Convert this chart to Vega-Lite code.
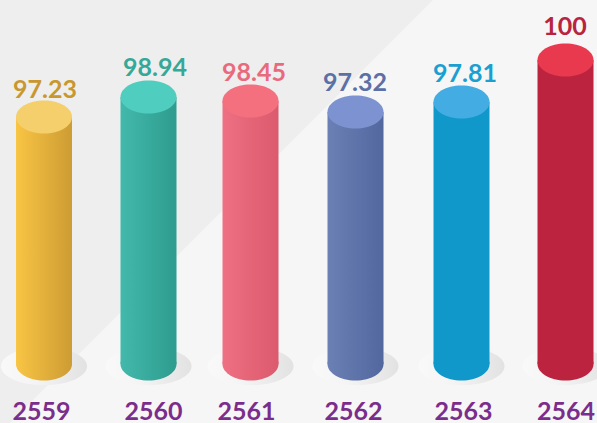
{
"$schema":"https://vega.github.io/schema/vega-lite/v6.json",
"width":597,"height":423,"padding":0,"autosize":{"type":"none"},
"background":"#eeeeee",
"view":{"stroke":null,"fill":"#eeeeee"},
"layer":[
 {"data":{"values":[{"bgx":10,"bgy":423},{"bgx":433,"bgy":0},{"bgx":597,"bgy":0}]},
  "mark":{"type":"area","fill":"#f6f6f6","interpolate":"linear"},
  "encoding":{
   "x":{"field":"bgx","type":"quantitative","axis":null,"scale":{"domain":[0,597],"range":[0,597]}},
   "y":{"field":"bgy","type":"quantitative","axis":null,"scale":{"domain":[0,423],"range":[0,423]}},
   "y2":{"datum":423}
  }},
 {"data":{"values":[{"year":2559,"value":97.23},{"year":2560,"value":98.94},{"year":2561,"value":98.45},{"year":2562,"value":97.32},{"year":2563,"value":97.81},{"year":2564,"value":100}]},
  "encoding":{
   "x":{"field":"year","type":"quantitative","scale":{"padding":0,"nice":false,"zero":false,"domain":[2559,2560,2561,2562,2563,2564],"range":[44,148.5,250.5,355.5,461.5,565.5]},
     "axis":{"values":[2559,2560,2561,2562,2563,2564],"format":"d","title":null,"domain":false,"ticks":false,"grid":false,"labelFont":"Lato","labelFontSize":25,"labelFontWeight":700,"labelColor":"#7b2d8b","labelBaseline":"middle","labelPadding":-12,"labelOverlap":false,"labelBound":false,"labelFlush":false,"zindex":1,
       "labelOffset":{"expr":"[-3,4.5,-4.5,-2.5,1.5,0][datum.value-2559]"}}},
   "y":{"field":"value","type":"quantitative","axis":null,"scale":{"padding":0,"nice":false,"zero":false,"domain":[90,97.23,97.32,97.81,98.45,98.94,100],"range":[364,117,112,102,101,97,60]}}
  },
  "layer":[
   {"mark":{"type":"point","filled":true,"opacity":1,"size":7396,"shape":"M-1,0.05 A1,0.44 0 1,0 1,0.05 A1,0.44 0 1,0 -1,0.05 Z",
      "fill":{"gradient":"linear","x1":0,"x2":1,"y1":0,"y2":0,"stops":[{"offset":0,"color":"#f9f9f9"},{"offset":0.4,"color":"#f4f4f4"},{"offset":1,"color":"#e2e2e2"}]}},
    "encoding":{"y":{"datum":90,"type":"quantitative"}}},
   {"transform":[{"filter":"datum.year==2559"}],"mark":{"type":"bar","size":56,"fill":{"gradient":"linear","x1":0,"x2":1,"y1":0,"y2":0,"stops":[{"offset":0,"color":"#f9c544"},{"offset":1,"color":"#cd9c33"}]}},"encoding":{"y2":{"datum":90}}},
   {"transform":[{"filter":"datum.year==2559"}],"mark":{"type":"point","filled":true,"opacity":1,"size":3136,"shape":"M-1,0 A1,0.59 0 1,0 1,0 A1,0.59 0 1,0 -1,0 Z","fill":{"gradient":"linear","x1":0,"x2":1,"y1":0,"y2":0,"stops":[{"offset":0,"color":"#f9c544"},{"offset":1,"color":"#cd9c33"}]}},"encoding":{"y":{"datum":90,"type":"quantitative"}}},
   {"transform":[{"filter":"datum.year==2560"}],"mark":{"type":"bar","size":56,"fill":{"gradient":"linear","x1":0,"x2":1,"y1":0,"y2":0,"stops":[{"offset":0,"color":"#42b9ac"},{"offset":1,"color":"#2e9c8e"}]}},"encoding":{"y2":{"datum":90}}},
   {"transform":[{"filter":"datum.year==2560"}],"mark":{"type":"point","filled":true,"opacity":1,"size":3136,"shape":"M-1,0 A1,0.59 0 1,0 1,0 A1,0.59 0 1,0 -1,0 Z","fill":{"gradient":"linear","x1":0,"x2":1,"y1":0,"y2":0,"stops":[{"offset":0,"color":"#42b9ac"},{"offset":1,"color":"#2e9c8e"}]}},"encoding":{"y":{"datum":90,"type":"quantitative"}}},
   {"transform":[{"filter":"datum.year==2561"}],"mark":{"type":"bar","size":56,"fill":{"gradient":"linear","x1":0,"x2":1,"y1":0,"y2":0,"stops":[{"offset":0,"color":"#ee7082"},{"offset":1,"color":"#dc5a6d"}]}},"encoding":{"y2":{"datum":90}}},
   {"transform":[{"filter":"datum.year==2561"}],"mark":{"type":"point","filled":true,"opacity":1,"size":3136,"shape":"M-1,0 A1,0.59 0 1,0 1,0 A1,0.59 0 1,0 -1,0 Z","fill":{"gradient":"linear","x1":0,"x2":1,"y1":0,"y2":0,"stops":[{"offset":0,"color":"#ee7082"},{"offset":1,"color":"#dc5a6d"}]}},"encoding":{"y":{"datum":90,"type":"quantitative"}}},
   {"transform":[{"filter":"datum.year==2562"}],"mark":{"type":"bar","size":56,"fill":{"gradient":"linear","x1":0,"x2":1,"y1":0,"y2":0,"stops":[{"offset":0,"color":"#6b81b5"},{"offset":1,"color":"#52679e"}]}},"encoding":{"y2":{"datum":90}}},
   {"transform":[{"filter":"datum.year==2562"}],"mark":{"type":"point","filled":true,"opacity":1,"size":3136,"shape":"M-1,0 A1,0.59 0 1,0 1,0 A1,0.59 0 1,0 -1,0 Z","fill":{"gradient":"linear","x1":0,"x2":1,"y1":0,"y2":0,"stops":[{"offset":0,"color":"#6b81b5"},{"offset":1,"color":"#52679e"}]}},"encoding":{"y":{"datum":90,"type":"quantitative"}}},
   {"transform":[{"filter":"datum.year==2563"}],"mark":{"type":"bar","size":56,"fill":"#1098ca"},"encoding":{"y2":{"datum":90}}},
   {"transform":[{"filter":"datum.year==2563"}],"mark":{"type":"point","filled":true,"opacity":1,"size":3136,"shape":"M-1,0 A1,0.59 0 1,0 1,0 A1,0.59 0 1,0 -1,0 Z","fill":"#1098ca"},"encoding":{"y":{"datum":90,"type":"quantitative"}}},
   {"transform":[{"filter":"datum.year==2564"}],"mark":{"type":"bar","size":56,"fill":"#bc233f"},"encoding":{"y2":{"datum":90}}},
   {"transform":[{"filter":"datum.year==2564"}],"mark":{"type":"point","filled":true,"opacity":1,"size":3136,"shape":"M-1,0 A1,0.59 0 1,0 1,0 A1,0.59 0 1,0 -1,0 Z","fill":"#bc233f"},"encoding":{"y":{"datum":90,"type":"quantitative"}}},
   {"mark":{"type":"point","filled":true,"opacity":1,"size":3136,"shape":"M-1,0 A1,0.59 0 1,0 1,0 A1,0.59 0 1,0 -1,0 Z"},
    "encoding":{
     "color":{"field":"year","type":"nominal","legend":null,"scale":{"domain":[2559,2560,2561,2562,2563,2564],"range":["#f4cf6c","#4fcdbf","#f4707f","#7d92d0","#42ace3","#e8394f"]}}
    }},
   {"mark":{"type":"text","font":"Lato","fontSize":25,"fontWeight":700,"baseline":"middle","dy":{"expr":"[-27,-29,-28,-29,-28,-33][datum.year-2559]"},"dx":{"expr":"[1,6.5,3.5,-0.5,3.5,-0.5][datum.year-2559]"}},
    "encoding":{
     "text":{"field":"value","type":"quantitative","format":".2~f"},
     "fill":{"field":"year","type":"nominal","legend":null,"scale":{"domain":[2559,2560,2561,2562,2563,2564],"range":["#c8982e","#35a898","#e96a7c","#5b70a6","#1a9fd0","#b8243f"]}}
    }}
  ]
 }
],
"resolve":{"scale":{"x":"independent","y":"independent"}}
}
